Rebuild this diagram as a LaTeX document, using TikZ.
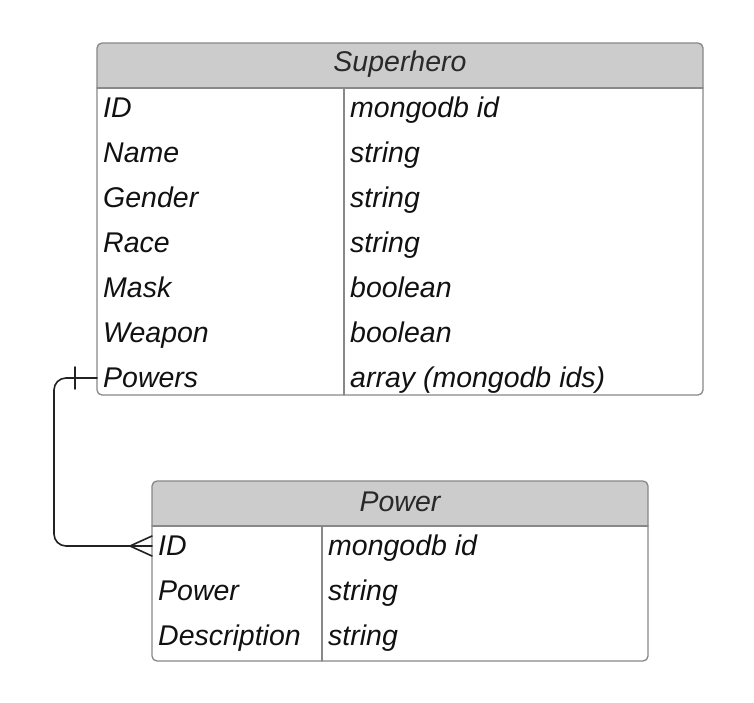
\documentclass[tikz,border=0pt]{standalone}
\usepackage{fontspec}
\setmainfont{Liberation Sans}
\usetikzlibrary{calc,positioning}
\definecolor{erdHead}{HTML}{CCCCCC}
\definecolor{erdLine}{HTML}{888888}
\definecolor{erdInk}{HTML}{111111}
\definecolor{erdLink}{HTML}{222222}
\begin{document}
\begin{tikzpicture}[x=1pt,y=-1pt,line cap=round,line join=round]
\useasboundingbox[fill=white] (0,0) rectangle (754,702);
\tikzset{frame/.style={draw=erdLine,line width=1.3pt},
  head/.style={fill=erdHead},
  field/.style={anchor=west,inner xsep=6pt,inner ysep=0pt,text height=19pt,text depth=0pt,text=erdInk,font=\fontsize{28.5}{32}\selectfont\itshape},
  title/.style={text=erdInk!90,font=\fontsize{28.5}{32}\selectfont\itshape},
  link/.style={draw=erdLink,line width=1.6pt}}
% Superhero table
\begin{scope}
\clip (97,43) rectangle (703,88);
\path[head,rounded corners=5pt] (97,43) rectangle (703,110);
\end{scope}
\draw[frame] (97,88) -- (703,88);
\draw[frame] (344,88) -- (344,395);
\draw[frame,rounded corners=5pt] (97,43) rectangle (703,395);
\node[title] (sh-title) at (400,64) {Superhero};
\node[field] (sh-id) at (97,108) {ID};
\node[field] (sh-name) at (97,153) {Name};
\node[field] (sh-gender) at (97,198) {Gender};
\node[field] (sh-race) at (97,243) {Race};
\node[field] (sh-mask) at (97,288) {Mask};
\node[field] (sh-weapon) at (97,333) {Weapon};
\node[field] (sh-powers) at (97,378) {Powers};
\node[field] (sh-idt) at (344,108) {mongodb id};
\node[field] (sh-namet) at (344,153) {string};
\node[field] (sh-gendert) at (344,198) {string};
\node[field] (sh-racet) at (344,243) {string};
\node[field] (sh-maskt) at (344,288) {boolean};
\node[field] (sh-weapont) at (344,333) {boolean};
\node[field] (sh-powerst) at (344,378) {array (mongodb ids)};
% Power table
\begin{scope}
\clip (152,481) rectangle (648,526);
\path[head,rounded corners=5pt] (152,481) rectangle (648,540);
\end{scope}
\draw[frame] (152,526) -- (648,526);
\draw[frame] (322,526) -- (322,661);
\draw[frame,rounded corners=5pt] (152,481) rectangle (648,661);
\node[title] (pw-title) at (400,502) {Power};
\node[field] (pw-id) at (152,546) {ID};
\node[field] (pw-power) at (152,591) {Power};
\node[field] (pw-desc) at (152,636) {Description};
\node[field] (pw-idt) at (322,546) {mongodb id};
\node[field] (pw-powert) at (322,591) {string};
\node[field] (pw-desct) at (322,636) {string};
% one to many
\draw[link,rounded corners=12pt] (sh-powers.west) -- ++(-43,0) |- (pw-id.west);
\draw[link] ($(sh-powers.west)+(-22,-11)$) -- ++(0,22);
\draw[link] ($(pw-id.west)+(-22,0)$) -- ($(pw-id.west)+(0,-10)$);
\draw[link] ($(pw-id.west)+(-22,0)$) -- ($(pw-id.west)+(0,10)$);
\end{tikzpicture}
\end{document}
